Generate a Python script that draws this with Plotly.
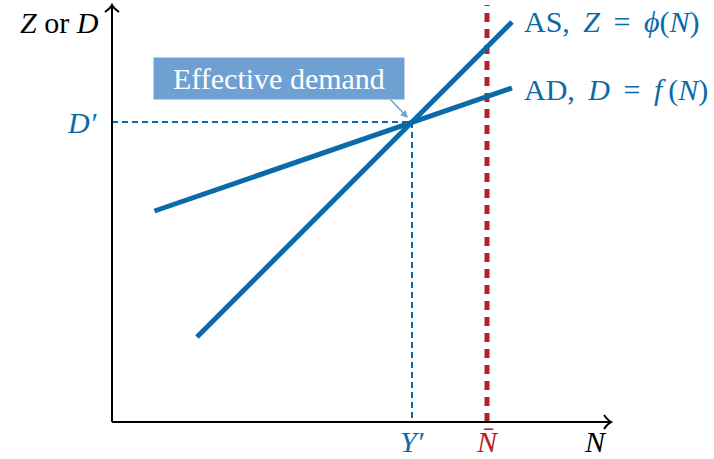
import plotly.graph_objects as go

# Data (model units)
as_x = [1.7, 8.0]
as_y = [1.7, 8.0]
ad_x = [0.85, 8.0]
ad_y = [4.22, 6.68]
eq_x = 6.0      # Y'
eq_y = 6.0      # D'
nbar = 7.5      # N-bar
x_max = 9.98
y_max = 8.34

BLUE = "#0b6aa8"
RED = "#b52025"
BOX = "#6fa0d2"
FONT = "'Liberation Serif', 'Times New Roman', 'DejaVu Serif', serif"
FS = 30

fig = go.Figure()

# dashed guide lines
fig.add_trace(go.Scatter(x=[0, eq_x, eq_x], y=[eq_y, eq_y, 0], mode="lines",
                         line=dict(color=BLUE, width=2, dash="6px,4px"), hoverinfo="skip"))
fig.add_trace(go.Scatter(x=[nbar, nbar], y=[0, y_max], mode="lines",
                         line=dict(color=RED, width=5, dash="9px,7px"), hoverinfo="skip"))
# AD and AS
fig.add_trace(go.Scatter(x=ad_x, y=ad_y, mode="lines", line=dict(color=BLUE, width=5), hoverinfo="skip"))
fig.add_trace(go.Scatter(x=as_x, y=as_y, mode="lines", line=dict(color=BLUE, width=5), hoverinfo="skip"))

# axes
fig.add_shape(type="line", x0=0, y0=0, x1=x_max, y1=0, line=dict(color="black", width=2))
fig.add_shape(type="line", x0=0, y0=0, x1=0, y1=y_max, line=dict(color="black", width=2))
u = 1 / 50.0
fig.add_shape(type="path",
              path=f"M {x_max-7*u},{7*u} Q {x_max-3*u},{1.5*u} {x_max},0 Q {x_max-3*u},{-1.5*u} {x_max-7*u},{-7*u}",
              line=dict(color="black", width=2))
fig.add_shape(type="path",
              path=f"M {-7*u},{y_max-7*u} Q {-1.5*u},{y_max-3*u} 0,{y_max} Q {1.5*u},{y_max-3*u} {7*u},{y_max-7*u}",
              line=dict(color="black", width=2))

SP = "\u2009"
EN = "\u2002"
ann = []
ann.append(dict(x=-0.22, y=8.0, text="<i>Z</i> or <i>D</i>", xanchor="right", yanchor="middle",
                showarrow=False, font=dict(family=FONT, size=FS, color="black")))
ann.append(dict(x=-0.26, y=eq_y, text="<i>D′</i>", xanchor="right", yanchor="middle",
                showarrow=False, font=dict(family=FONT, size=FS, color=BLUE)))
ann.append(dict(x=eq_x, y=-0.38, text="<i>Y′</i>", xanchor="center", yanchor="middle",
                showarrow=False, font=dict(family=FONT, size=FS, color=BLUE)))
ann.append(dict(x=nbar, y=-0.38, text="<i>N̄</i>", xanchor="center", yanchor="middle",
                showarrow=False, font=dict(family=FONT, size=FS, color=RED)))
ann.append(dict(x=9.66, y=-0.38, text="<i>N</i>", xanchor="center", yanchor="middle",
                showarrow=False, font=dict(family=FONT, size=FS, color="black")))
ann.append(dict(x=8.2, y=8.0, text=f"AS,{SP} <i>Z</i>{SP} ={SP} <i>ϕ</i>(<i>N</i>)", xanchor="left", yanchor="middle",
                showarrow=False, font=dict(family=FONT, size=FS, color=BLUE)))
ann.append(dict(x=8.2, y=6.64, text=f"AD,{SP} <i>D</i>{SP} ={SP} <i>f</i>{SP}(<i>N</i>)", xanchor="left", yanchor="middle",
                showarrow=False, font=dict(family=FONT, size=FS, color=BLUE)))
ann.append(dict(x=3.33, y=6.88, text=f"{EN}Effective demand{EN}", xanchor="center", yanchor="middle",
                showarrow=False, bgcolor=BOX, borderpad=4,
                font=dict(family=FONT, size=FS, color="white")))
ann.append(dict(x=5.92, y=6.08, ax=5.54, ay=6.48, axref="x", ayref="y", text="",
                showarrow=True, arrowhead=2, arrowsize=1, arrowwidth=1.5, arrowcolor=BOX))
fig.update_layout(annotations=ann)

fig.update_xaxes(range=[-2.24, 12.04], visible=False)
fig.update_yaxes(range=[-0.74, 8.44], visible=False)
fig.update_layout(width=714, height=459, margin=dict(l=0, r=0, t=0, b=0),
                  plot_bgcolor="white", paper_bgcolor="white", showlegend=False)
fig.write_html("out.html", config={"displayModeBar": False},
               post_script="document.body.style.margin='0px';")
